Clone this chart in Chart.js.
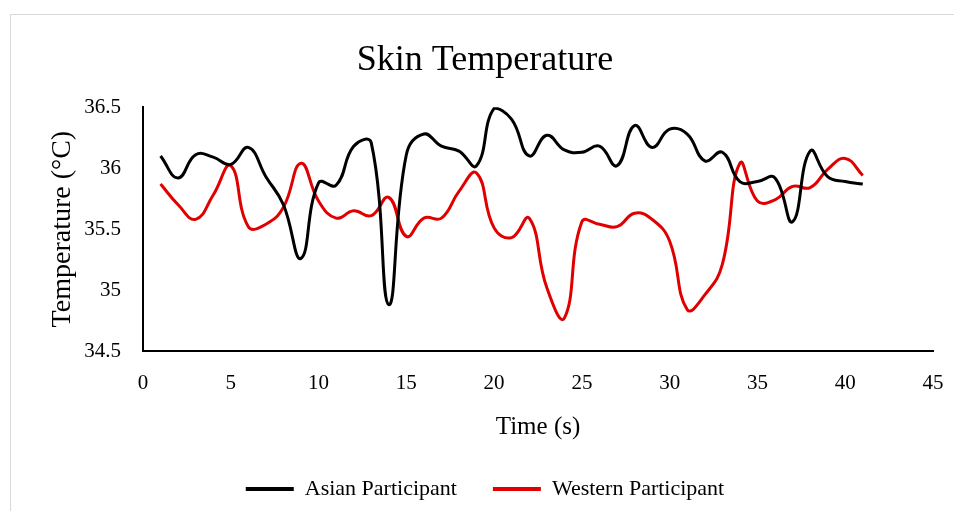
<!DOCTYPE html>
<html>
<head>
<meta charset="utf-8">
<script src="https://cdn.jsdelivr.net/npm/chart.js@4/dist/chart.umd.min.js"></script>
<style>
  html, body { margin: 0; padding: 0; background: #fff; overflow: hidden; }
  #frame { position: absolute; left: 10px; top: 14px; width: 1000px; height: 600px; border: 1px solid #d9d9d9; }
  #wrap { position: absolute; left: 0; top: 0; width: 954px; height: 511px; }
</style>
</head>
<body>
<div id="frame"></div>
<div id="wrap"><canvas id="myChart"></canvas></div>
<script>
// time in seconds
const times = [1, 2, 3, 4, 5, 6, 7, 8, 9, 10, 11, 12, 13, 14, 15, 16, 17, 18, 19, 20,
               21, 22, 23, 24, 25, 26, 27, 28, 29, 30, 31, 32, 33, 34, 35, 36, 37, 38, 39, 40, 41];

const asianTemps = [36.10, 35.92, 36.11, 36.09, 36.03, 36.17, 35.93, 35.70, 35.26, 35.88,
                    35.86, 36.18, 36.21, 34.88, 36.11, 36.28, 36.18, 36.14, 36.02, 36.49,
                    36.40, 36.10, 36.27, 36.15, 36.13, 36.18, 36.02, 36.35, 36.17, 36.32,
                    36.28, 36.06, 36.13, 35.89, 35.89, 35.92, 35.56, 36.14, 35.93, 35.89, 35.87];

const westernTemps = [35.87, 35.70, 35.58, 35.78, 36.02, 35.52, 35.54, 35.68, 36.04, 35.73,
                      35.59, 35.65, 35.61, 35.76, 35.44, 35.59, 35.59, 35.81, 35.96, 35.51,
                      35.43, 35.59, 35.02, 34.77, 35.56, 35.54, 35.52, 35.63, 35.58, 35.40,
                      34.84, 34.96, 35.21, 36.04, 35.73, 35.74, 35.85, 35.84, 35.99, 36.08, 35.94];

const seriesNames = ["Asian Participant", "Western Participant"];
const seriesColors = ["#000000", "#e00000"];

const FONT = "'Palatino Linotype', 'Book Antiqua', Palatino, 'Liberation Serif', serif";

const toPoints = (vals) => vals.map((v, i) => ({ x: times[i], y: v }));

// * Invisible tick marks push the labels away from the axis
// * without adding side padding to the chart area
const hiddenGrid = (len) => ({
    display: true,
    drawOnChartArea: false,
    drawTicks: true,
    tickLength: len,
    color: "transparent",
    tickColor: "transparent",
});

const config = {
    type: "line",
    data: {
        datasets: [asianTemps, westernTemps].map((vals, k) => ({
            label: seriesNames[k],
            data: toPoints(vals),
            borderColor: seriesColors[k],
            backgroundColor: seriesColors[k],
            borderWidth: 3,
            pointRadius: 0,
            tension: 0.45,
            fill: false,
        })),
    },
    options: {
        responsive: true,
        maintainAspectRatio: false,
        animation: false,
        layout: { padding: { left: 37, right: 21, top: 0, bottom: 1 } },
        plugins: {
            title: {
                display: true,
                text: "Skin Temperature",
                color: "#000",
                font: { family: FONT, size: 36, weight: "normal" },
                padding: { top: 39, bottom: 25 },
            },
            legend: {
                position: "bottom",
                labels: {
                    color: "#000",
                    font: { family: FONT, size: 22 },
                    boxWidth: 48,
                    boxHeight: 4,
                    padding: 36,
                    generateLabels: (chart) =>
                        Chart.defaults.plugins.legend.labels
                            .generateLabels(chart)
                            .map((item) => ({ ...item, lineWidth: 0 })),
                },
            },
            tooltip: { enabled: false },
        },
        scales: {
            x: {
                type: "linear",
                min: 0,
                max: 45,
                grid: hiddenGrid(20),
                border: { display: true, color: "#000", width: 2 },
                ticks: {
                    stepSize: 5,
                    color: "#000",
                    padding: 0,
                    font: { family: FONT, size: 21 },
                },
                title: {
                    display: true,
                    text: "Time (s)",
                    color: "#000",
                    font: { family: FONT, size: 25 },
                    padding: { top: 11, bottom: 0 },
                },
                afterFit: (s) => { s.height = 91; },
            },
            y: {
                min: 34.5,
                max: 36.5,
                grid: hiddenGrid(22),
                border: { display: true, color: "#000", width: 2 },
                ticks: {
                    stepSize: 0.5,
                    color: "#000",
                    padding: 0,
                    font: { family: FONT, size: 21 },
                    callback: (v) => String(v),
                },
                title: {
                    display: true,
                    text: "Temperature (°C)",
                    color: "#000",
                    font: { family: FONT, size: 28 },
                    padding: { top: 9, bottom: 0 },
                },
                afterFit: (s) => { s.width = 106; },
            },
        },
    },
};

const ctx = document.getElementById("myChart").getContext("2d");
const chart = new Chart(ctx, config);
</script>
</body>
</html>
